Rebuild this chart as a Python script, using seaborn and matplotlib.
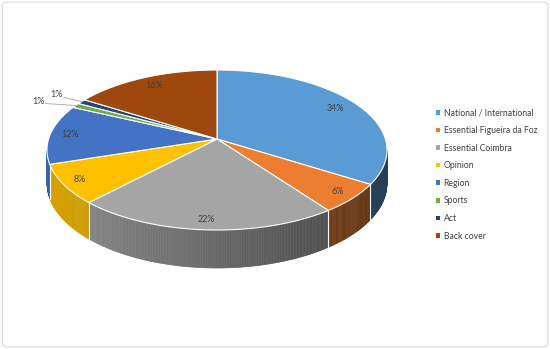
import numpy as np
import matplotlib.pyplot as plt
import seaborn as sns
from matplotlib.patches import Polygon, Rectangle, FancyBboxPatch
from matplotlib.colors import to_rgb

sns.set_style('white')
plt.rcParams['font.family'] = ['Lato', 'DejaVu Sans']

# chart data
categories = ['National / International', 'Essential Figueira da Foz', 'Essential Coimbra',
              'Opinion', 'Region', 'Sports', 'Act', 'Back cover']
shares = [34, 6, 22, 8, 12, 1, 1, 16]
pct_labels = [f'{s}%' for s in shares]
colors = ['#5B9BD5', '#ED7D31', '#A5A5A5', '#FFC000', '#4472C4', '#70AD47', '#264478', '#9E480E']

# view geometry (pixel units), a simple perspective tilt of the disk
CX, R = 217, 168.4
A, B, C = -59.375, 139.0, 0.1375
DEPTH = 32.8
label_r = [0.85, 0.9, 0.9, 0.9, 0.88, 1.25, 1.2, 0.85]
label_dt = [0, 0, 0, 0, 0, 2.5, 0, 0]


def project(u, v, drop=0.0):
    w = 1 + C * v
    return CX + R * u / w, (A * v + B + drop) / w


def shade(color, x):
    # Excel-like side gradient: lighter on the left, darker on the right
    f = 0.85 - 0.45 * np.clip((x - 47) / 340, 0, 1)
    return tuple(np.array(to_rgb(color)) * f)


fig = plt.figure(figsize=(5.5, 3.49), dpi=100)
ax = fig.add_axes([0, 0, 1, 1])
ax.set_xlim(0, 550)
ax.set_ylim(349, 0)
ax.axis('off')

fig.patches.append(FancyBboxPatch((0.004, 0.006), 0.992, 0.988, boxstyle='round,pad=0,rounding_size=0.01',
                                  transform=fig.transFigure, fill=False, edgecolor='#d9d9d9', lw=0.8))

total = sum(shares)
bounds = 90 - 360 * np.concatenate([[0], np.cumsum(shares)]) / total
t_front_lo = -180 + np.degrees(np.arcsin(C))
t_front_hi = -np.degrees(np.arcsin(C))

# side walls (only the front part is visible)
for i, col in enumerate(colors):
    t0, t1 = sorted([bounds[i + 1], bounds[i]])
    for shift in (0, -360):
        a0, a1 = max(t0 + shift, t_front_lo), min(t1 + shift, t_front_hi)
        if a1 <= a0:
            continue
        ts = np.radians(np.linspace(a0, a1, max(3, int((a1 - a0) * 2))))
        for k in range(len(ts) - 1):
            seg = ts[k:k + 2]
            xt, yt = project(np.cos(seg), np.sin(seg))
            xb, yb = project(np.cos(seg), np.sin(seg), DEPTH)
            fc = shade(col, xt.mean())
            ax.add_patch(Polygon(np.column_stack([np.r_[xt, xb[::-1]], np.r_[yt, yb[::-1]]]),
                                 closed=True, facecolor=fc, edgecolor=fc, lw=0.4))

# white seams between the walls
for b in bounds:
    for tb in (b, b - 360):
        if t_front_lo < tb < t_front_hi:
            r = np.radians(tb)
            x0, y0 = project(np.cos(r), np.sin(r))
            x1, y1 = project(np.cos(r), np.sin(r), DEPTH)
            ax.plot([x0, x1], [y0, y1], color='white', lw=0.8)

# top face
cx0, cy0 = project(0, 0)
for i, col in enumerate(colors):
    ts = np.radians(np.linspace(bounds[i], bounds[i + 1], 120))
    xs, ys = project(np.cos(ts), np.sin(ts))
    ax.add_patch(Polygon(np.column_stack([np.r_[cx0, xs], np.r_[cy0, ys]]), closed=True,
                         facecolor=col, edgecolor='white', lw=0.8, joinstyle='round'))

# percentage labels
for i, lab in enumerate(pct_labels):
    tm = np.radians((bounds[i] + bounds[i + 1]) / 2)
    tl = tm + np.radians(label_dt[i])
    lx, ly = project(label_r[i] * np.cos(tl), label_r[i] * np.sin(tl))
    ax.text(lx, ly, lab, ha='center', va='center', fontsize=6.4, color='#404040')
    if label_r[i] > 1:
        ex, ey = project(np.cos(tm), np.sin(tm))
        ax.plot([lx + 7, ex], [ly + 2.5, ey], color='#a6a6a6', lw=0.6)

# legend
handles = [Rectangle((0, 0), 1, 1, facecolor=c, edgecolor='none') for c in colors]
ax.legend(handles, categories, loc='upper left', bbox_to_anchor=(432 / 550, 1 - 104 / 349),
          bbox_transform=fig.transFigure, frameon=False, fontsize=6.2, labelcolor='#404040',
          handlelength=0.45, handleheight=0.45, handletextpad=0.4, labelspacing=1.0, borderpad=0)

fig.savefig('out.png', dpi=100)
